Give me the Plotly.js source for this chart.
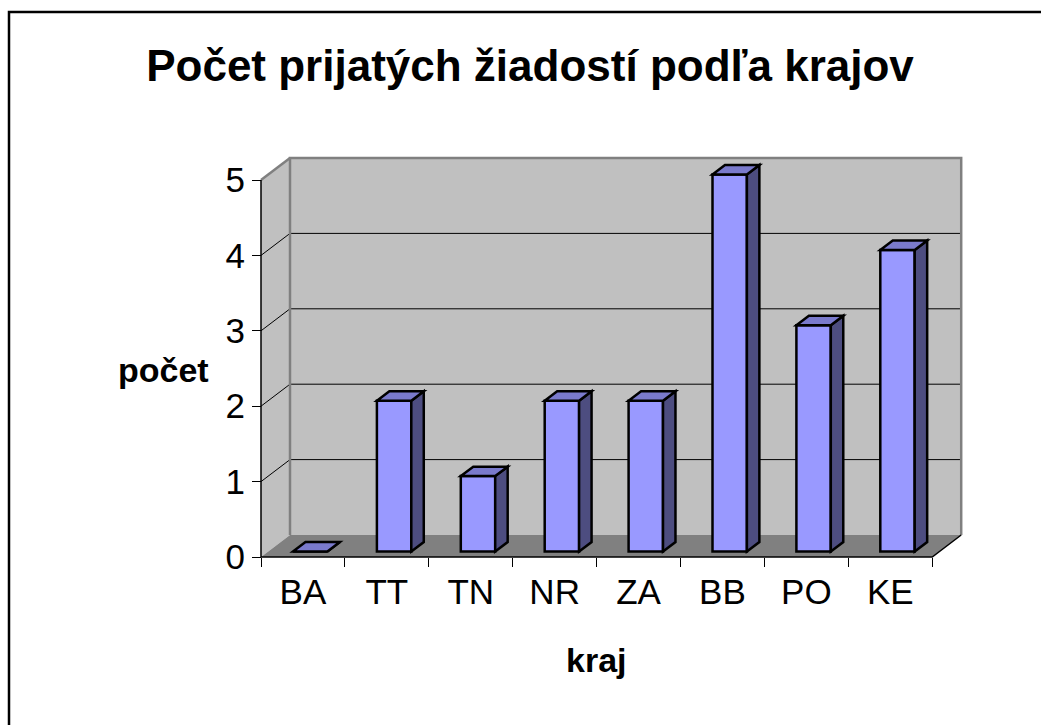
<!DOCTYPE html>
<html><head><meta charset="utf-8">
<script src="https://cdn.plot.ly/plotly-3.0.1.min.js"></script>
<style>body{margin:0;background:#fff}#chart{width:1041px;height:725px}</style>
</head><body><div id="chart"></div>
<script>
// ---- data ----
const categories = ['BA','TT','TN','NR','ZA','BB','PO','KE'];
const values = [0,2,1,2,2,5,3,4];
const yTicks = [0,1,2,3,4,5];
const chartTitle = 'Počet prijatých žiadostí podľa krajov';
const yTitle = 'počet';
const xTitle = 'kraj';

// ---- geometry (layout only) ----
const W=1041, H=725;
const L=245, R=975, T=150, B=570;
const x0px=261, y0px=557;
const P=83.9, Q=75.4;
const wp=R-L, hp=B-T;
const xr=[-0.5-(x0px-L)/P, -0.5+(R-x0px)/P];
const yr=[-(B-y0px)/Q, (y0px-T)/Q];
const DX=29/P, DY=22/Q;
const n=categories.length;
const ymax=yTicks[yTicks.length-1];
const f1=0.25, dep=0.43, bw=0.41;
const FONT='Liberation Sans, Arial, sans-serif';
const px2x = p => (p-L)/wp;
const px2y = p => (B-p)/hp;

const shapes=[];
const xl=-0.5, xe=n-0.5;
// walls and floor
shapes.push({type:'path',layer:'below',path:`M ${xl},0 L ${xl+DX},${DY} L ${xl+DX},${ymax+DY} L ${xl},${ymax} Z`,fillcolor:'#c0c0c0',line:{width:0}});
shapes.push({type:'rect',layer:'below',x0:xl+DX,y0:DY,x1:xe+DX,y1:ymax+DY,fillcolor:'#c0c0c0',line:{width:0}});
shapes.push({type:'path',layer:'below',path:`M ${xl},0 L ${xe},0 L ${xe+DX},${DY} L ${xl+DX},${DY} Z`,fillcolor:'#808080',line:{width:0}});
// gridlines
yTicks.filter(k=>k>0 && k<ymax).forEach(k=>{
  shapes.push({type:'line',layer:'below',x0:xl+DX,y0:k+DY,x1:xe+DX,y1:k+DY,line:{color:'#000',width:1}});
  shapes.push({type:'line',layer:'below',x0:xl,y0:k,x1:xl+DX,y1:k+DY,line:{color:'#000',width:1}});
});
// wall edges (gray)
shapes.push({type:'path',layer:'below',path:`M ${xl+DX},${DY} L ${xl+DX},${ymax+DY} L ${xe+DX},${ymax+DY} L ${xe+DX},${DY}`,line:{color:'#808080',width:2.5}});
shapes.push({type:'line',layer:'below',x0:xl,y0:ymax,x1:xl+DX,y1:ymax+DY,line:{color:'#808080',width:2.5}});
// front edges (black)
shapes.push({type:'path',layer:'below',path:`M ${xl},${ymax} L ${xl},0 L ${xe},0 L ${xe+DX},${DY}`,line:{color:'#000',width:1.5}});

// bar tops and sides
const bxs = categories.map((c,i)=>i+f1*DX);
const bdx=dep*DX, bdy=dep*DY, yb=f1*DY;
values.forEach((v,i)=>{
  const a=bxs[i]-bw/2, b=bxs[i]+bw/2, yt=yb+v;
  shapes.push({type:'path',layer:'above',path:`M ${b},${yb} L ${b+bdx},${yb+bdy} L ${b+bdx},${yt+bdy} L ${b},${yt} Z`,fillcolor:'#4d4d80',line:{color:'#000',width:2.5}});
  shapes.push({type:'path',layer:'above',path:`M ${a},${yt} L ${b},${yt} L ${b+bdx},${yt+bdy} L ${a+bdx},${yt+bdy} Z`,fillcolor:'#7a7acc',line:{color:'#000',width:2.5}});
});

// outer frame (left and top only visible)
shapes.push({type:'path',xref:'paper',yref:'paper',path:`M ${px2x(9)},${px2y(H+5)} L ${px2x(9)},${px2y(12)} L ${px2x(W+5)},${px2y(12)}`,line:{color:'#000',width:2.5}});

const trace={type:'bar',x:bxs,y:values,base:values.map(()=>yb),width:bw,
  marker:{color:'#9999ff',line:{color:'#000',width:2.5}},hoverinfo:'skip',cliponaxis:false};

const layout={
  width:W,height:H,paper_bgcolor:'#fff',plot_bgcolor:'rgba(0,0,0,0)',
  margin:{l:L,r:W-R,t:T,b:H-B,pad:0},
  showlegend:false,
  font:{family:FONT,color:'#000'},
  title:{text:chartTitle,font:{size:44,family:FONT,weight:'bold',color:'#000'},
    xref:'container',yref:'container',x:530/W,xanchor:'center',y:1-66/H,yanchor:'middle'},
  xaxis:{range:xr,anchor:'free',position:px2y(y0px),showgrid:false,zeroline:false,showline:false,
    tickmode:'array',tickvals:categories.map((c,i)=>i),ticktext:categories,ticks:'',ticklabelstandoff:11,
    tickfont:{size:35,family:FONT,color:'#000'},
    minor:{tickmode:'array',tickvals:categories.map((c,i)=>i-0.5).concat([n-0.5]),ticks:'outside',ticklen:9,tickwidth:1,tickcolor:'#000',showgrid:false},
    fixedrange:true},
  yaxis:{range:yr,anchor:'free',position:px2x(x0px),showgrid:false,zeroline:false,showline:false,
    tickmode:'array',tickvals:yTicks,ticks:'outside',ticklen:9,tickwidth:1,tickcolor:'#000',
    tickfont:{size:35,family:FONT,color:'#000'},fixedrange:true},
  shapes:shapes,
  annotations:[
    {text:yTitle,xref:'paper',yref:'paper',x:px2x(163),y:px2y(370),showarrow:false,xanchor:'center',yanchor:'middle',font:{size:34,family:FONT,weight:'bold',color:'#000'}},
    {text:xTitle,xref:'paper',yref:'paper',x:px2x(596),y:px2y(660),showarrow:false,xanchor:'center',yanchor:'middle',font:{size:34,family:FONT,weight:'bold',color:'#000'}}
  ]
};
Plotly.newPlot('chart',[trace],layout,{displayModeBar:false,staticPlot:true});
</script></body></html>
